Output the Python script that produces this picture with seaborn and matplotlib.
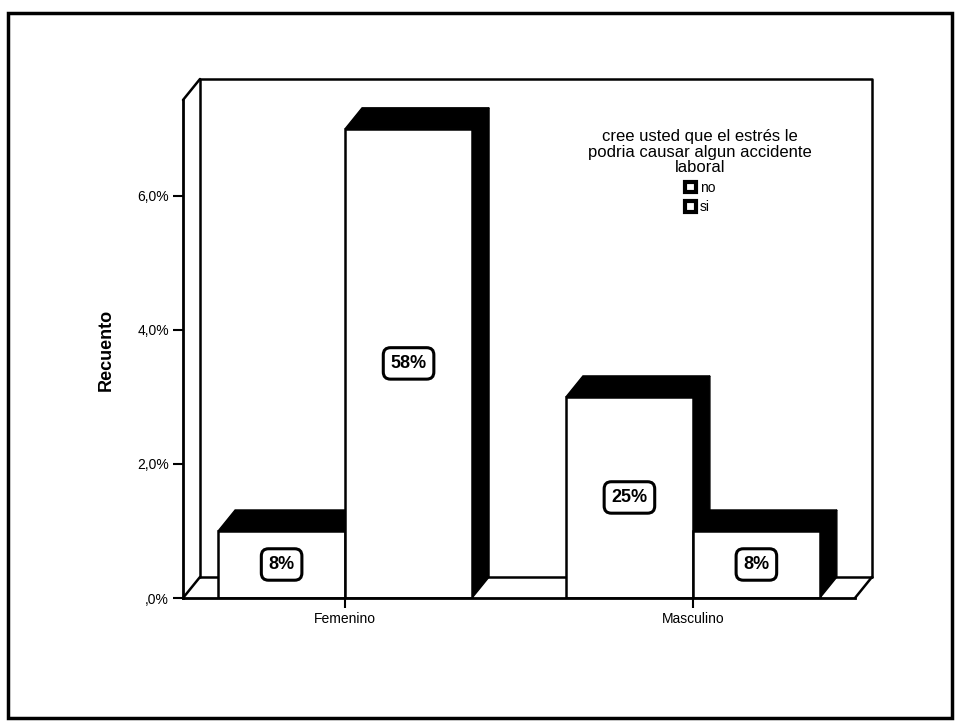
import matplotlib
matplotlib.use("Agg")
import matplotlib.pyplot as plt
from matplotlib.patches import Polygon, Rectangle, Patch
import pandas as pd
import seaborn as sns

# data
sexo = ["Femenino", "Femenino", "Masculino", "Masculino"]
respuesta = ["no", "si", "no", "si"]
recuento = [1, 7, 3, 1]
etiquetas_no = ["8%", "25%"]
etiquetas_si = ["58%", "8%"]
yticks = [0, 2, 4, 6]
ytick_labels = [",0%", "2,0%", "4,0%", "6,0%"]
legend_title = "cree usted que el estrés le\npodria causar algun accidente\nlaboral"

df = pd.DataFrame({"sexo": sexo, "resp": respuesta, "n": recuento})

sns.set_style("white")
plt.rcParams["font.family"] = ["Liberation Sans", "DejaVu Sans"]
plt.rcParams["text.color"] = "black"
plt.rcParams["xtick.labelcolor"] = "black"
plt.rcParams["ytick.labelcolor"] = "black"

W, H = 962, 727
fig = plt.figure(figsize=(W / 100, H / 100), dpi=100)
ax = fig.add_axes([183 / W, 129 / H, 672 / W, 498 / H])

sns.barplot(data=df, x="sexo", y="n", hue="resp",
            order=["Femenino", "Masculino"], hue_order=["no", "si"],
            palette={"no": "white", "si": "white"},
            edgecolor="black", linewidth=1.8, width=0.73,
            errorbar=None, legend=False, ax=ax)

x0, x1 = -0.466, 1.466
y0, y1 = 0, 7.43
ax.set_xlim(x0, x1)
ax.set_ylim(y0, y1)

# pseudo-3D depth, ~17px right and ~21px up
dx = 17 / (672 / (x1 - x0))
dy = 21 / (498 / (y1 - y0))

line_kw = dict(color="black", lw=1.8, clip_on=False, zorder=0.5)
# back wall frame
ax.plot([x0 + dx, x0 + dx, x1 + dx, x1 + dx], [dy, y1 + dy, y1 + dy, dy], **line_kw)
# floor
ax.plot([x0 + dx, x1 + dx], [dy, dy], **line_kw)
ax.plot([x0, x0 + dx], [0, dy], **line_kw)
ax.plot([x1, x1 + dx], [0, dy], **line_kw)
# left wall top
ax.plot([x0, x0 + dx], [y1, y1 + dy], **line_kw)

bars = list(ax.patches)
for p in bars:
    bx, w, h = p.get_x(), p.get_width(), p.get_height()
    p.set_zorder(3)
    top = Polygon([(bx, h), (bx + w, h), (bx + w + dx, h + dy), (bx + dx, h + dy)],
                  closed=True, fc="black", ec="black", lw=1, zorder=2)
    side = Polygon([(bx + w, 0), (bx + w, h), (bx + w + dx, h + dy), (bx + w + dx, dy)],
                   closed=True, fc="black", ec="black", lw=1, zorder=2)
    ax.add_patch(top)
    ax.add_patch(side)

for c, labs in zip(ax.containers, [etiquetas_no, etiquetas_si]):
    txts = ax.bar_label(c, labels=labs, label_type="center", fontsize=13,
                        fontweight="bold", color="black",
                        bbox=dict(boxstyle="round,pad=0.4", fc="white", ec="black", lw=2.2))
    for t in txts:
        t.set_zorder(5)

ax.set_yticks(yticks, ytick_labels)
ax.tick_params(axis="both", direction="out", length=7, width=1.5, color="black",
               labelsize=10, pad=3, bottom=True, left=True)
ax.set_xlabel("")
ax.set_ylabel("")
for s in ["top", "right"]:
    ax.spines[s].set_visible(False)
for s in ["left", "bottom"]:
    ax.spines[s].set_color("black")
    ax.spines[s].set_linewidth(2)
    ax.spines[s].set_zorder(4)

fig.text(106 / W, (H - 350) / H, "Recuento", rotation=90, ha="center", va="center",
         fontsize=13, fontweight="bold")

handles = [Patch(fc="white", ec="black", lw=3, label="no"),
           Patch(fc="white", ec="black", lw=3, label="si")]
leg = ax.legend(handles=handles, title=legend_title, loc="upper center",
                bbox_to_anchor=(700 / W, (H - 122) / H), bbox_transform=fig.transFigure,
                frameon=False, fontsize=10, title_fontsize=12,
                handlelength=0.8, handleheight=0.8, handletextpad=0.3,
                labelspacing=0.4, borderpad=0)
leg.get_title().set_multialignment("center")
leg.get_title().set_linespacing(1.05)

fig.patches.append(Rectangle((8 / W, 9 / H), 944 / W, 705 / H, transform=fig.transFigure,
                             fill=False, ec="black", lw=2.5))

fig.savefig("out.png", dpi=100)
